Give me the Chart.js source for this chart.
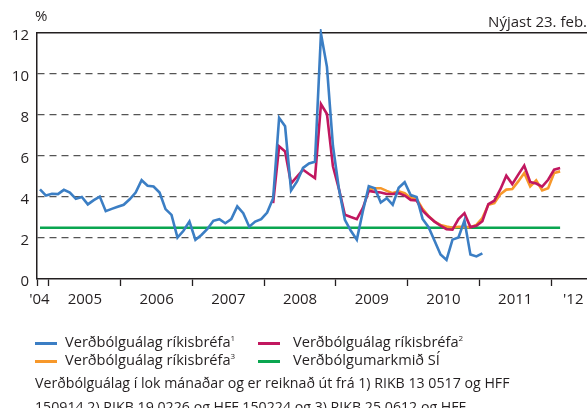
<!DOCTYPE html>
<html lang="is">
<head>
<meta charset="utf-8">
<script src="https://cdn.jsdelivr.net/npm/chart.js@4/dist/chart.umd.min.js"></script>
<style>
  html, body { margin: 0; padding: 0; background: #fff; }
  body { font-family: "Open Sans", sans-serif; color: #231f20; }
  #wrap { position: relative; width: 587px; height: 408px; overflow: hidden; }
  #plot { position: absolute; left: 0; top: 0; width: 587px; height: 310px; }
  .t { position: absolute; white-space: nowrap; line-height: 1; }
  .sw { position: absolute; width: 22px; height: 3px; }
  sup { font-size: 8px; vertical-align: 6px; line-height: 0; }
</style>
</head>
<body>
<div id="wrap">
  <div id="plot"><canvas id="cfd"></canvas></div>
  <div class="t" style="left:35px; top:8px; font-size:15px;">%</div>
  <div class="t" style="right:0; top:14px; font-size:15px;">Nýjast 23. feb.</div>

  <div class="sw" style="left:35px; top:342px; background:#3b7ec4;"></div>
  <div class="t" style="left:65px; top:334px; font-size:14.6px;">Verðbólguálag ríkisbréfa<sup>1</sup></div>
  <div class="sw" style="left:258px; top:342px; background:#c1175f;"></div>
  <div class="t" style="left:293px; top:334px; font-size:14.6px;">Verðbólguálag ríkisbréfa<sup>2</sup></div>
  <div class="sw" style="left:35px; top:360px; background:#f7982a;"></div>
  <div class="t" style="left:65px; top:352px; font-size:14.6px;">Verðbólguálag ríkisbréfa<sup>3</sup></div>
  <div class="sw" style="left:258px; top:360px; background:#0aa650;"></div>
  <div class="t" style="left:293px; top:352px; font-size:14.6px;">Verðbólgumarkmið SÍ</div>

  <div class="t" style="left:35px; top:376px; font-size:14.2px;">Verðbólguálag í lok mánaðar og er reiknað út frá 1) RIKB 13 0517 og HFF</div>
  <div class="t" style="left:35px; top:400px; font-size:14.2px;">150914 2) RIKB 19 0226 og HFF 150224 og 3) RIKB 25 0612 og HFF</div>
</div>
<script>
// mánuðir taldir frá jan 2004, gildi í lok hvers mánaðar
const FONT = '"Open Sans", sans-serif';
const INK = '#231f20';

const blueStart = '2004-11';
const blueValues = [
  4.37, 4.07, 4.16, 4.14, 4.35, 4.22, 3.91, 4.00, 3.64, 3.85,
  4.02, 3.31, 3.42, 3.52, 3.62, 3.89, 4.22, 4.82, 4.55, 4.51,
  4.22, 3.41, 3.13, 2.02, 2.35, 2.80, 1.91, 2.15, 2.44, 2.84,
  2.92, 2.72, 2.92, 3.54, 3.21, 2.55, 2.80, 2.92, 3.24, 3.94,
  7.86, 7.45, 4.32, 4.76, 5.42, 5.64, 5.72, 11.97, 10.35, 6.50,
  4.40, 2.89, 2.35, 1.92, 3.29, 4.53, 4.43, 3.73, 3.94, 3.62,
  4.45, 4.72, 4.10, 4.00, 2.93, 2.53, 1.87, 1.20, 0.93, 1.92,
  2.03, 2.85, 1.19, 1.10, 1.25
];

const magentaStart = '2008-02';
const magentaValues = [
  3.70, 6.47, 6.22, 4.66, 5.00, 5.33, 5.12, 4.92, 8.53, 8.05,
  5.50, 4.40, 3.13, 3.02, 2.92, 3.46, 4.30, 4.25, 4.22, 4.15,
  4.15, 4.19, 4.07, 3.86, 3.83, 3.33, 3.05, 2.80, 2.60, 2.43,
  2.41, 2.92, 3.21, 2.53, 2.60, 2.82, 3.65, 3.82, 4.37, 5.04,
  4.63, 5.09, 5.53, 4.73, 4.66, 4.51, 4.84, 5.33, 5.41
];

const orangeStart = '2009-06';
const orangeValues = [
  4.37, 4.43, 4.43, 4.30, 4.19, 4.27, 4.19, 3.95, 3.90, 3.42,
  3.07, 2.80, 2.64, 2.56, 2.50, 2.55, 2.53, 2.53, 2.64, 2.97,
  3.62, 3.70, 4.13, 4.36, 4.39, 4.76, 5.17, 4.51, 4.81, 4.32,
  4.43, 5.17, 5.25
];

const targetValue = 2.5;
const targetFrom = '2004-11';
const targetTo = '2012-02';

const yearLabels = ["'04", '2005', '2006', '2007', '2008', '2009', '2010', '2011', "'12"];

function monthIndex(ym) {
  const [y, m] = ym.split('-').map(Number);
  return (y - 2004) * 12 + (m - 1);
}

// punktur á miðjum mánuði
function toPoints(start, values) {
  const m0 = monthIndex(start);
  return values.map((v, i) => ({ x: m0 + i + 0.5, y: v }));
}

const X_MIN = 10, X_MAX = 102;
const yearTicks = [X_MIN];
for (let m = 12; m <= 96; m += 12) yearTicks.push(m);
const labelTicks = [10.4];
for (let m = 18; m <= 90; m += 12) labelTicks.push(m);
labelTicks.push(99.7);

const line = (label, data, color) => ({
  label, data, borderColor: color, backgroundColor: color,
  borderWidth: 2.6, pointRadius: 0, tension: 0, clip: 4,
});

new Chart(document.getElementById('cfd'), {
  type: 'line',
  data: {
    datasets: [
      line('Verðbólguálag ríkisbréfa1', toPoints(blueStart, blueValues), '#3b7ec4'),
      line('Verðbólguálag ríkisbréfa2', toPoints(magentaStart, magentaValues), '#c1175f'),
      line('Verðbólguálag ríkisbréfa3', toPoints(orangeStart, orangeValues), '#f7982a'),
      line('Verðbólgumarkmið SÍ', [
        { x: monthIndex(targetFrom) + 0.5, y: targetValue },
        { x: monthIndex(targetTo) + 0.5, y: targetValue },
      ], '#0aa650'),
    ],
  },
  options: {
    responsive: true,
    maintainAspectRatio: false,
    animation: false,
    layout: { padding: { top: 33, left: 0, right: 0, bottom: 0 }, autoPadding: false },
    plugins: { legend: { display: false }, tooltip: { enabled: false } },
    scales: {
      y: {
        min: 0, max: 12,
        afterFit: s => { s.width = 37; },
        ticks: { stepSize: 2, padding: 8, labelOffset: 3, color: INK, font: { family: FONT, size: 15 } },
        grid: {
          color: c => (c.tick && (c.tick.value === 0 || c.tick.value === 12)) ? 'rgba(0,0,0,0)' : '#555',
          lineWidth: 1.2,
          drawTicks: false,
        },
        border: { display: true, color: INK, width: 1.5, dash: [7, 5] },
      },
      x: {
        type: 'linear', min: X_MIN, max: X_MAX, position: 'bottom',
        afterBuildTicks: s => { s.ticks = yearTicks.map(v => ({ value: v })); },
        afterFit: s => { s.height = 7; },
        ticks: { display: false },
        grid: { drawOnChartArea: false, drawTicks: true, tickLength: 7, tickColor: INK, tickWidth: 1.3 },
        border: { display: true, color: INK, width: 1.5 },
      },
      xl: {
        type: 'linear', min: X_MIN, max: X_MAX, position: 'bottom',
        afterBuildTicks: s => { s.ticks = labelTicks.map(v => ({ value: v })); },
        afterFit: s => { s.height = 24; },
        ticks: {
          autoSkip: false, maxRotation: 0, padding: -3, color: INK,
          font: { family: FONT, size: 15 },
          callback: (v, i) => yearLabels[i],
        },
        grid: { display: false },
        border: { display: false },
      },
      xt: {
        type: 'linear', min: X_MIN, max: X_MAX, position: 'top',
        afterFit: s => { s.height = 0; },
        ticks: { display: false },
        grid: { display: false },
        border: { display: true, color: INK, width: 1.5 },
      },
    },
  },
});
</script>
</body>
</html>
